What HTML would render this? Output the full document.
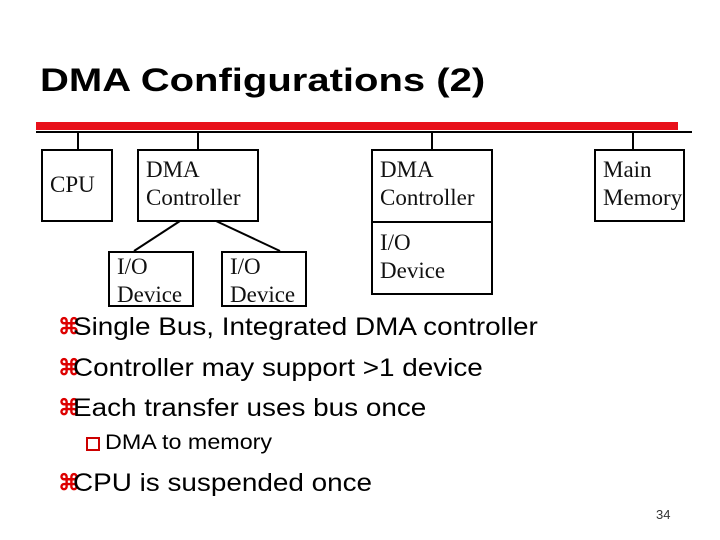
<!DOCTYPE html>
<html><head><style>
body{margin:0;width:720px;height:540px;background:#fff;position:relative;overflow:hidden;font-family:"Liberation Sans",sans-serif}
.a{position:absolute}
.box{position:absolute;border:2px solid #000;box-sizing:border-box;font-family:"Liberation Serif",serif;font-size:23px;line-height:28px;padding:5px 0 0 7px;color:#111;white-space:nowrap}
.b{position:absolute;left:73px;font-size:25px;color:#000;white-space:nowrap;transform:scaleX(1.115);transform-origin:0 0}
.k{position:absolute;left:58px;color:#d00;font-weight:bold;font-size:22px}
</style></head><body>
<div class="a" style="left:40px;top:62px;font-size:32px;font-weight:bold;transform:scaleX(1.25);transform-origin:0 0;white-space:nowrap">DMA Configurations (2)</div>
<div class="a" style="left:36px;top:122px;width:642px;height:8px;background:#e8101a"></div>
<div class="a" style="left:36px;top:131px;width:656px;height:2px;background:#000"></div>
<svg class="a" style="left:0;top:0" width="720" height="540">
<g stroke="#000" stroke-width="2">
<line x1="78" y1="132" x2="78" y2="149"/><line x1="198" y1="132" x2="198" y2="149"/>
<line x1="432" y1="132" x2="432" y2="149"/><line x1="633" y1="132" x2="633" y2="149"/>
<line x1="180" y1="221" x2="134" y2="251"/><line x1="216" y1="221" x2="280" y2="251"/>
</g></svg>
<div class="box" style="left:41px;top:149px;width:72px;height:73px;padding-top:20px">CPU</div>
<div class="box" style="left:137px;top:149px;width:122px;height:73px">DMA<br>Controller</div>
<div class="box" style="left:371px;top:149px;width:122px;height:74px">DMA<br>Controller</div>
<div class="box" style="left:371px;top:221px;width:122px;height:74px;padding-top:6px">I/O<br>Device</div>
<div class="box" style="left:594px;top:149px;width:91px;height:73px">Main<br>Memory</div>
<div class="box" style="left:108px;top:251px;width:86px;height:56px;padding-top:0">I/O<br>Device</div>
<div class="box" style="left:221px;top:251px;width:86px;height:56px;padding-top:0">I/O<br>Device</div>
<div class="k" style="top:314px">⌘</div><div class="b" style="top:313px">Single Bus, Integrated DMA controller</div>
<div class="k" style="top:355px">⌘</div><div class="b" style="top:354px">Controller may support &gt;1 device</div>
<div class="k" style="top:395px">⌘</div><div class="b" style="top:394px">Each transfer uses bus once</div>
<div class="a" style="left:86px;top:433px;width:14px;height:14px;border:2px solid #c00;box-sizing:border-box;top:437px"></div>
<div class="a" style="left:105px;top:431px;font-size:21px;white-space:nowrap;transform:scaleX(1.11);transform-origin:0 0">DMA to memory</div>
<div class="k" style="top:470px">⌘</div><div class="b" style="top:469px">CPU is suspended once</div>
<div class="a" style="left:656px;top:507px;font-size:13px;color:#333">34</div>
</body></html>
